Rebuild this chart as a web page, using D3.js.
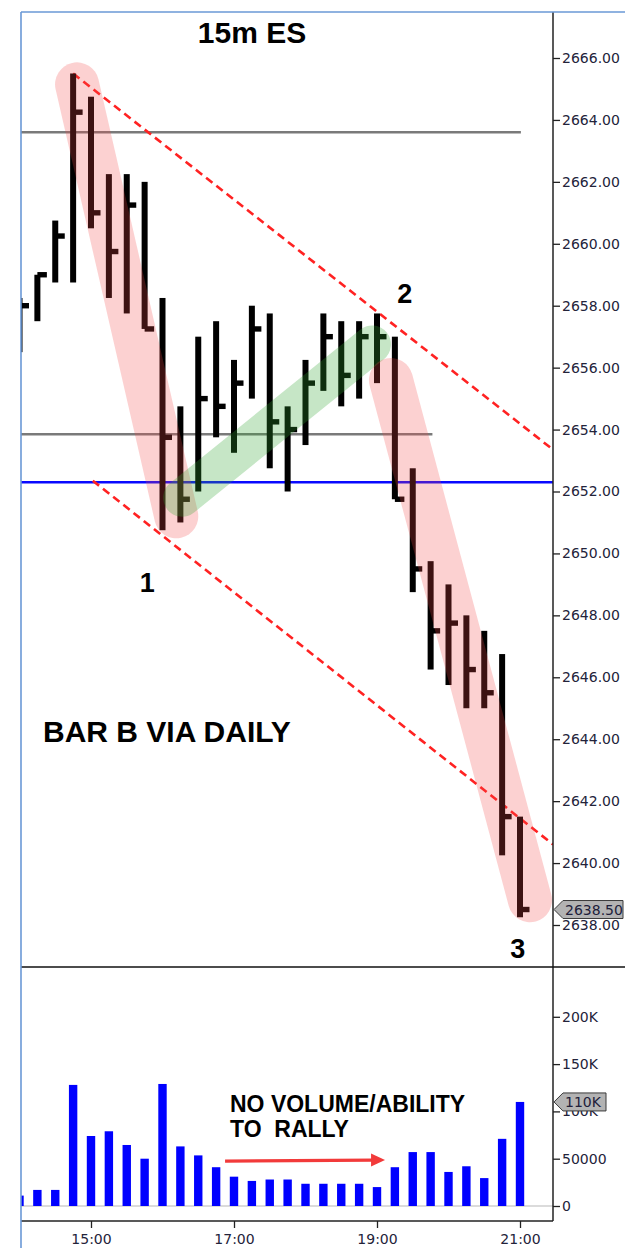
<!DOCTYPE html>
<html><head><meta charset="utf-8">
<script src="https://cdn.jsdelivr.net/npm/d3@7"></script>
<style>body{margin:0;background:#fff}svg{display:block}</style>
</head><body>
<svg id="chart" width="625" height="1248"></svg>
<script>
// ---------- data ----------
const times = ["14:00","14:15","14:30","14:45","15:00","15:15","15:30","15:45","16:00","16:15","16:30","16:45",
  "17:00","17:15","17:30","17:45","18:00","18:15","18:30","18:45","19:00","19:15","19:30","19:45","20:00","20:15","20:30","20:45","21:00"];
const highs = [2658.25,2659.0,2660.75,2665.5,2664.75,2662.25,2662.25,2662.0,2658.25,2654.75,2657.0,2657.5,
  2656.25,2658.0,2657.75,2654.75,2656.25,2657.75,2657.5,2657.5,2657.75,2657.0,2652.75,2649.75,2649.0,2648.0,2647.5,2646.75,2641.5];
const lows = [2656.5,2657.5,2658.75,2658.75,2660.5,2658.25,2657.75,2657.25,2650.75,2651.0,2652.0,2653.75,
  2653.25,2655.0,2652.75,2652.0,2653.5,2655.25,2654.75,2655.0,2655.5,2651.75,2648.75,2646.25,2645.75,2645.0,2645.0,2640.25,2638.25];
const closes = [2658.0,2659.0,2660.25,2664.25,2661.0,2659.75,2661.25,2657.25,2653.75,2651.75,2655.0,2654.75,
  2655.5,2657.25,2654.25,2654.0,2655.5,2657.0,2655.75,2657.0,2657.0,2651.75,2649.5,2647.5,2647.75,2646.25,2645.5,2641.5,2638.5];
const volumes = [11000,17000,17000,128000,74000,79000,64500,50000,129000,63000,53500,41000,31000,26500,28000,28000,
  23500,23500,23500,23500,20000,41000,57000,57000,36000,42000,29500,71000,110000];
const priceTicks = [2638,2640,2642,2644,2646,2648,2650,2652,2654,2656,2658,2660,2662,2664,2666];
const volumeTicks = [0,50000,100000,150000,200000];
const volumeTickLabels = ["0","50000","100K","150K","200K"];
const timeTickLabels = ["15:00","17:00","19:00","21:00"];
const grayLevels = [2663.6, 2653.85];
const grayLevelEnds = [28.05, 23.1];     // bar index where each gray line stops
const blueLevel = 2652.3;
// trend lines: [barIndex, price]
const upperTrend = [[3.0, 2665.5],[29.85, 2653.35]];
const lowerTrend = [[4.1, 2652.35],[29.85, 2640.6]];
// highlight bands: [barIndex, price]
const redBand1 = [[3.22, 2665.15],[8.77, 2651.2]];
const greenBand = [[9.1, 2651.8],[19.72, 2656.75]];
const redBand2 = [[20.78, 2655.6],[28.56, 2638.8]];
// arrow in volume panel: [barIndex, volume]
const volArrow = [[11.5, 47500],[20.45, 48500]];
const waveLabels = [["1", 7.15, 2648.75],["2", 21.55, 2658.1],["3", 27.88, 2636.95]];

// ---------- layout ----------
const L = 21, R = 553, pTop = 12, pBot = 967, vBot = 1221;
const svg = d3.select("#chart");
const x = d3.scaleLinear().domain([0, 28]).range([19.5, 520]);
const y = d3.scaleLinear().domain([2638, 2666]).range([925, 58]);
const yV = d3.scaleLinear().domain([0, 50000]).range([1206, 1158.7]);

const defs = svg.append("defs");
defs.append("clipPath").attr("id","cp").append("rect").attr("x",L).attr("y",pTop).attr("width",R-L).attr("height",pBot-pTop);
defs.append("clipPath").attr("id","cv").append("rect").attr("x",L).attr("y",pBot).attr("width",R-L).attr("height",vBot-pBot);

const gp = svg.append("g").attr("clip-path","url(#cp)");
// level lines
grayLevels.forEach((lv,i)=>{
  gp.append("line").attr("x1",L).attr("x2",x(grayLevelEnds[i])).attr("y1",y(lv)).attr("y2",y(lv))
    .attr("stroke","#7a7a7a").attr("stroke-width",2.6);
});
gp.append("line").attr("x1",L).attr("x2",R).attr("y1",y(blueLevel)).attr("y2",y(blueLevel))
  .attr("stroke","#0a0aff").attr("stroke-width",2.6);
// trend lines
[upperTrend, lowerTrend].forEach(t=>{
  gp.append("line").attr("x1",x(t[0][0])).attr("y1",y(t[0][1])).attr("x2",x(t[1][0])).attr("y2",y(t[1][1]))
    .attr("stroke","#ff2222").attr("stroke-width",2.6).attr("stroke-dasharray","8,5");
});
// HLC bars
const bars = gp.selectAll("g.bar").data(times.map((t,i)=>({i,h:highs[i],l:lows[i],c:closes[i]}))).join("g");
bars.append("rect").attr("x",d=>x(d.i)-3).attr("width",6).attr("y",d=>y(d.h)).attr("height",d=>y(d.l)-y(d.h)).attr("fill","#000");
bars.append("rect").attr("x",d=>x(d.i)).attr("width",9.5).attr("y",d=>y(d.c)-2.7).attr("height",5.4).attr("fill","#000");
// highlight bands
function band(b, color, w){
  gp.append("line").attr("x1",x(b[0][0])).attr("y1",y(b[0][1])).attr("x2",x(b[1][0])).attr("y2",y(b[1][1]))
    .attr("stroke",color).attr("stroke-width",w).attr("stroke-linecap","round");
}
band(redBand1, "rgba(245,70,70,0.25)", 44);
band(greenBand, "rgba(50,165,50,0.28)", 38);
band(redBand2, "rgba(245,70,70,0.25)", 44);

// volume
const gv = svg.append("g").attr("clip-path","url(#cv)");
gv.append("line").attr("x1",L).attr("x2",R).attr("y1",yV(0)).attr("y2",yV(0)).attr("stroke","#b8b8b8").attr("stroke-width",1.2);
gv.selectAll("rect").data(volumes).join("rect")
  .attr("x",(d,i)=>x(i)-4.2).attr("width",8.4).attr("y",d=>yV(d)).attr("height",d=>yV(0)-yV(d)).attr("fill","#0000ff");
// arrow
const ax0 = x(volArrow[0][0]), ay0 = yV(volArrow[0][1]), ax1 = x(volArrow[1][0]), ay1 = yV(volArrow[1][1]);
svg.append("line").attr("x1",ax0).attr("y1",ay0).attr("x2",ax1-12).attr("y2",ay1).attr("stroke","#f23a3a").attr("stroke-width",3.2);
svg.append("polygon").attr("points",`${ax1},${ay1} ${ax1-14},${ay1-6.5} ${ax1-14},${ay1+6.5}`).attr("fill","#f23a3a");

// axes
const fontAxis = "DejaVu Sans, Verdana, sans-serif";
const pAxis = svg.append("g").attr("transform",`translate(${R},0)`)
  .call(d3.axisRight(y).tickValues(priceTicks).tickFormat(d3.format(".2f")).tickSize(7).tickPadding(2));
const vAxis = svg.append("g").attr("transform",`translate(${R},0)`)
  .call(d3.axisRight(yV).tickValues(volumeTicks).tickFormat((d,i)=>volumeTickLabels[i]).tickSize(7).tickPadding(2));
const tAxis = svg.append("g").attr("transform",`translate(0,${vBot})`)
  .call(d3.axisBottom(x).tickValues([4,12,20,28]).tickFormat((d,i)=>timeTickLabels[i]).tickSize(7).tickPadding(6));
[pAxis,vAxis,tAxis].forEach(g=>{
  g.select(".domain").remove();
  g.selectAll("line").attr("stroke","#222").attr("stroke-width",1.3);
  g.selectAll("text").attr("font-family",fontAxis).attr("font-size",14).attr("fill","#23233a");
});

// frame lines
svg.append("line").attr("x1",R).attr("x2",R).attr("y1",pTop).attr("y2",vBot).attr("stroke","#222").attr("stroke-width",1.5);
svg.append("line").attr("x1",L).attr("x2",625).attr("y1",pBot).attr("y2",pBot).attr("stroke","#111").attr("stroke-width",1.5);
svg.append("line").attr("x1",L).attr("x2",R).attr("y1",vBot).attr("y2",vBot).attr("stroke","#222").attr("stroke-width",1.5);
svg.append("line").attr("x1",L).attr("x2",625).attr("y1",pTop).attr("y2",pTop).attr("stroke","#6a98d6").attr("stroke-width",1.6);
svg.append("line").attr("x1",L).attr("x2",L).attr("y1",pTop).attr("y2",1248).attr("stroke","#6a98d6").attr("stroke-width",1.6);

// value markers
function marker(yy, label, right){
  svg.append("polygon").attr("points",`${R+1},${yy} ${R+10},${yy-9} ${right},${yy-9} ${right},${yy+9} ${R+10},${yy+9}`)
    .attr("fill","#b3b3b3").attr("stroke","#3a3a3a").attr("stroke-width",1);
  svg.append("text").attr("x",R+12).attr("y",yy+5).attr("font-family",fontAxis).attr("font-size",14).attr("fill","#20203a").text(label);
}
marker(y(closes[closes.length-1]), d3.format(".2f")(closes[closes.length-1]), 623);
marker(yV(volumes[volumes.length-1]), d3.format(".2s")(volumes[volumes.length-1]).replace("k","K"), 606);

// texts
const fb = "Liberation Sans, Arial, sans-serif";
svg.append("text").attr("x",252).attr("y",43).attr("text-anchor","middle").attr("font-family",fb).attr("font-weight","bold").attr("font-size",30).text("15m ES");
svg.append("text").attr("x",43).attr("y",742).attr("font-family",fb).attr("font-weight","bold").attr("font-size",30).text("BAR B VIA DAILY");
svg.append("text").attr("x",230).attr("y",1112).attr("font-family",fb).attr("font-weight","bold").attr("font-size",23).text("NO VOLUME/ABILITY");
svg.append("text").attr("x",230).attr("y",1137).attr("font-family",fb).attr("font-weight","bold").attr("font-size",23).attr("xml:space","preserve").style("white-space","pre").text("TO  RALLY");
waveLabels.forEach(w=>{
  svg.append("text").attr("x",x(w[1])).attr("y",y(w[2])).attr("text-anchor","middle").attr("font-family",fb).attr("font-weight","bold").attr("font-size",27).text(w[0]);
});
</script>
</body></html>
